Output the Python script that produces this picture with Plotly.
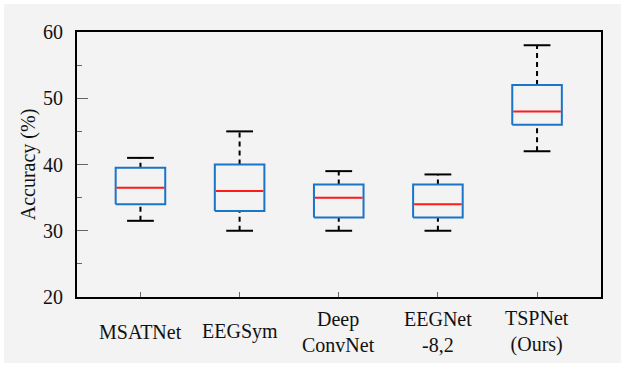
import plotly.graph_objects as go

categories = ["MSATNet", "EEGSym", "Deep<br>ConvNet", "EEGNet<br>-8,2", "TSPNet<br>(Ours)"]
positions = [1, 2, 3, 4, 5]
lower_whisker = [31.5, 30.0, 30.0, 30.0, 42.0]
q1 = [34.0, 33.0, 32.0, 32.0, 46.0]
median = [36.5, 36.0, 35.0, 34.0, 48.0]
q3 = [39.5, 40.0, 37.0, 37.0, 52.0]
upper_whisker = [41.0, 45.0, 39.0, 38.5, 58.0]
y_ticks = [20, 30, 40, 50, 60]

BOX_HALF = 0.25
CAP_HALF = 0.135
BLUE = "#1b74c6"
RED = "#ff1a1a"
BG = "#f3f3f3"
FONT = "Liberation Serif"

fig = go.Figure()

# whiskers (dashed)
wx, wy = [], []
for p, lo, a, b, hi in zip(positions, lower_whisker, q1, q3, upper_whisker):
    wx += [p, p, None, p, p, None]
    wy += [b, hi, None, lo, a, None]
fig.add_trace(go.Scatter(x=wx, y=wy, mode="lines", hoverinfo="skip",
                         line=dict(color="black", width=2, dash="5px,4px"), showlegend=False))

# caps
cx, cy = [], []
for p, lo, hi in zip(positions, lower_whisker, upper_whisker):
    cx += [p - CAP_HALF, p + CAP_HALF, None, p - CAP_HALF, p + CAP_HALF, None]
    cy += [hi, hi, None, lo, lo, None]
fig.add_trace(go.Scatter(x=cx, y=cy, mode="lines", hoverinfo="skip",
                         line=dict(color="black", width=2), showlegend=False))

# boxes
bx, by = [], []
for p, a, b in zip(positions, q1, q3):
    bx += [p - BOX_HALF, p + BOX_HALF, p + BOX_HALF, p - BOX_HALF, p - BOX_HALF, None]
    by += [a, a, b, b, a, None]
fig.add_trace(go.Scatter(x=bx, y=by, mode="lines", hoverinfo="skip",
                         line=dict(color=BLUE, width=2), showlegend=False))

# medians
mx, my = [], []
for p, m in zip(positions, median):
    mx += [p - BOX_HALF + 0.01, p + BOX_HALF - 0.01, None]
    my += [m, m, None]
fig.add_trace(go.Scatter(x=mx, y=my, mode="lines", hoverinfo="skip",
                         line=dict(color=RED, width=2), showlegend=False))

# category labels
for p, c in zip(positions, categories):
    fig.add_annotation(x=p, y=-0.132, xref="x", yref="paper", text=c, showarrow=False,
                       yanchor="middle", xanchor="center",
                       font=dict(family=FONT, size=20, color="#111"))

# gray background panel with white border
fig.add_shape(type="rect", xref="paper", yref="paper", layer="below",
              x0=(4 - 77) / 524, x1=(621 - 77) / 524,
              y0=(297 - 363) / 265, y1=(297 - 4) / 265,
              fillcolor=BG, line=dict(width=0))

fig.update_layout(
    width=624, height=368,
    margin=dict(l=77, r=23, t=32, b=71, autoexpand=False),
    paper_bgcolor="white", plot_bgcolor=BG,
    font=dict(family=FONT, size=20, color="#111"),
    showlegend=False,
)
fig.update_xaxes(range=[0.36, 5.645], tickvals=positions, showticklabels=False,
                 ticks="inside", ticklen=5, tickcolor="#666", tickwidth=1,
                 showline=True, linecolor="black", linewidth=2, mirror=True,
                 showgrid=False, zeroline=False)
fig.update_yaxes(range=[20, 60], tickvals=y_ticks, ticks="inside", ticklen=11,
                 tickcolor="#666", tickwidth=1,
                 minor=dict(dtick=5, ticks="inside", ticklen=5, tickcolor="#666", tickwidth=1, showgrid=False),
                 showline=True, linecolor="black", linewidth=2, mirror=True,
                 showgrid=False, zeroline=False, ticklabelstandoff=8,
                 title=dict(text="Accuracy (%)", font=dict(family=FONT, size=20), standoff=2),
                 tickfont=dict(family=FONT, size=20))

fig.write_html("out.html", config={"displayModeBar": False},
               post_script="document.body.style.margin='0';")
